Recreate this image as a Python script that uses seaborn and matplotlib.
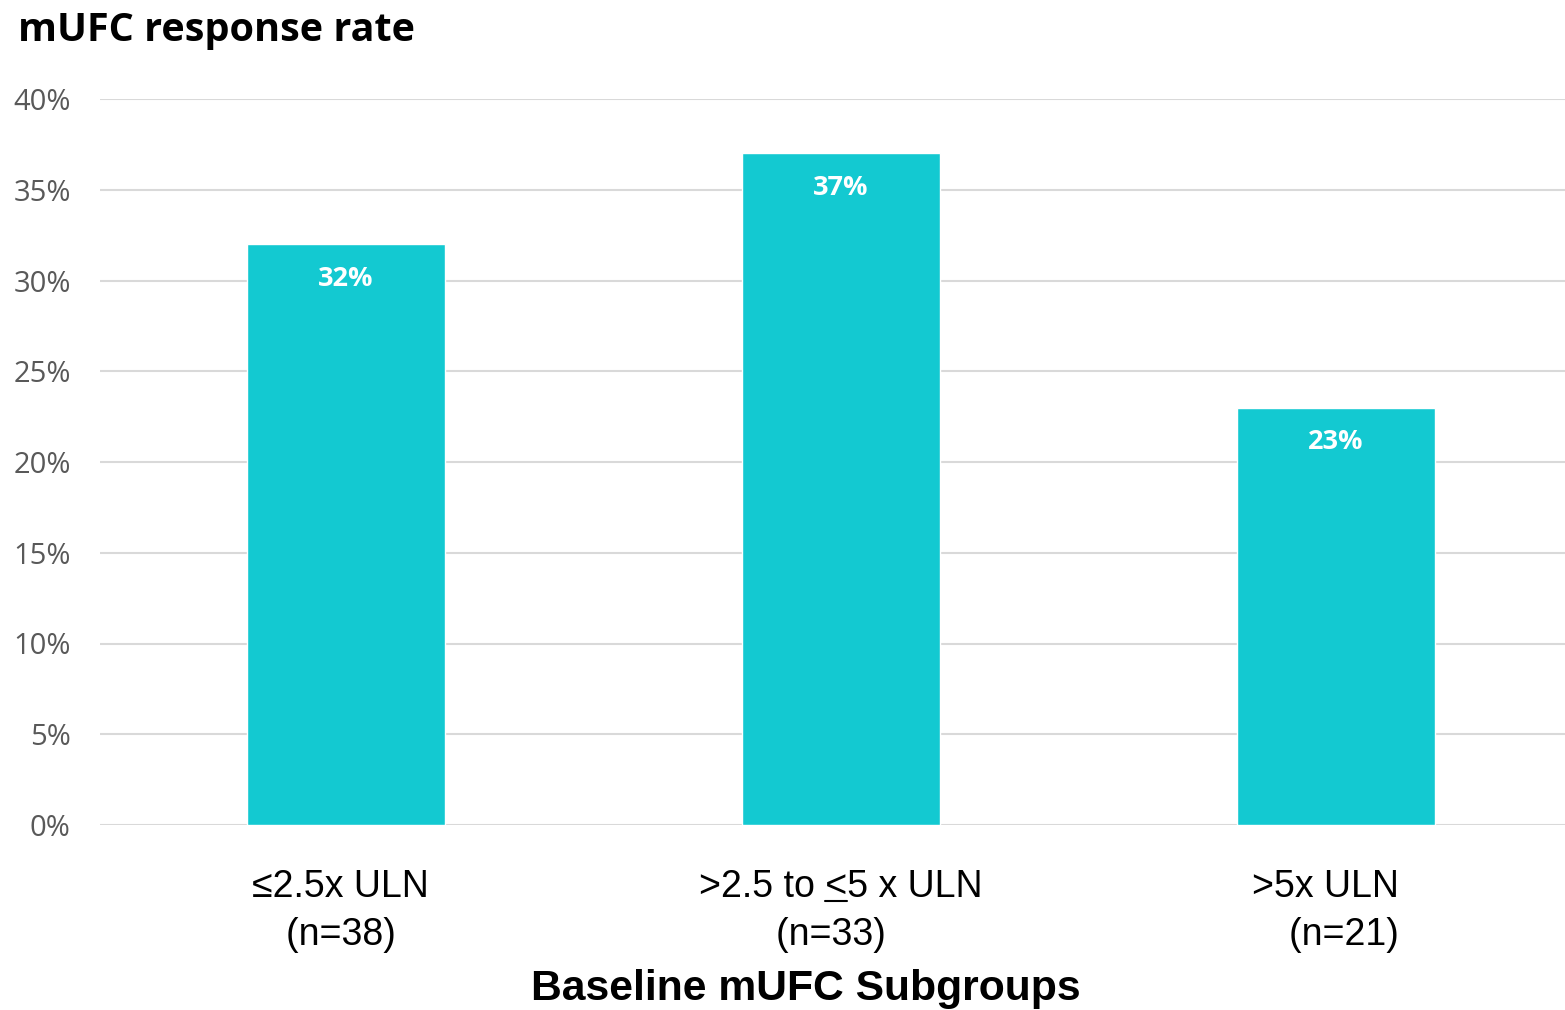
import matplotlib
matplotlib.use("Agg")
import matplotlib.pyplot as plt
from matplotlib.ticker import PercentFormatter
from matplotlib.lines import Line2D
import seaborn as sns
import pandas as pd

# Data
subgroups = ["≤2.5x ULN", ">2.5 to <5 x ULN", ">5x ULN"]
sample_sizes = ["(n=38)", "(n=33)", "(n=21)"]
response_rate = [0.32, 0.37, 0.23]
y_ticks = [0.0, 0.05, 0.10, 0.15, 0.20, 0.25, 0.30, 0.35, 0.40]

BAR_COLOR = "#13C9D1"
GRID_COLOR = "#D9D9D9"
TICK_GRAY = "#595959"

sns.set_theme(style="white")
plt.rcParams["font.family"] = ["Open Sans", "DejaVu Sans"]

fig = plt.figure(figsize=(15.65, 10.10), dpi=100)
ax = fig.add_axes([100 / 1565, 1 - 825 / 1010, 1465 / 1565, 726 / 1010])

df = pd.DataFrame({"group": subgroups, "rate": response_rate})
sns.barplot(data=df, x="group", y="rate", color=BAR_COLOR, saturation=1,
            width=0.4, ax=ax, zorder=3)

ax.set_ylim(0, 0.40)
ax.set_xlim(-0.497, 2.463)
ax.set_yticks(y_ticks)
ax.yaxis.set_major_formatter(PercentFormatter(1.0, decimals=0))
ax.grid(axis="y", color=GRID_COLOR, linewidth=1.5, zorder=0)
ax.grid(axis="x", visible=False)
ax.set_axisbelow(True)
for s in ax.spines.values():
    s.set_visible(False)

ax.tick_params(axis="y", length=0, pad=21, labelsize=21, labelcolor=TICK_GRAY)
ax.tick_params(axis="x", length=0, pad=32)

# Category labels: two lines each
tick_text = [
    f"{subgroups[0]} \n{sample_sizes[0]} ",
    f"{subgroups[1]}\n{sample_sizes[1]}  ",
    f"{subgroups[2]}  \n{sample_sizes[2]}  ",
]
ax.set_xticks(range(len(subgroups)))
ax.set_xticklabels(tick_text, fontsize=27, color="black",
                   family=["Liberation Sans", "DejaVu Sans"], linespacing=1.42)
ax.get_xticklabels()[2].set_multialignment("right")
ax.set_ylabel("")
ax.set_xlabel("Baseline mUFC Subgroups", fontsize=30.7, fontweight="bold",
              family=["Liberation Sans", "DejaVu Sans"], color="black", va="center")
ax.xaxis.set_label_coords((806 - 100) / 1465, (825 - 989) / 726)

# Value labels inside the top of each bar
for i, v in enumerate(response_rate):
    ax.annotate(f"{v * 100:.0f}%", xy=(i, v), xytext=(0, -25),
                textcoords="offset points", ha="center", va="center",
                color="white", fontsize=19.5, fontweight="bold", zorder=5)

fig.text(18 / 1565, 1 - 41 / 1010, "mUFC response rate", fontsize=28.5,
         fontweight="bold", color="black", ha="left", va="baseline")

# Underline the "<" in the middle category so it reads as "less than or equal"
fig.canvas.draw()
renderer = fig.canvas.get_renderer()
lab = ax.get_xticklabels()[1]
fp = lab.get_fontproperties()
bbox = lab.get_window_extent(renderer)
line1 = subgroups[1]
w_line, _, _ = renderer.get_text_width_height_descent(line1, fp, ismath=False)
w_pre, _, _ = renderer.get_text_width_height_descent(">2.5 to <", fp, ismath=False)
w_lt, _, _ = renderer.get_text_width_height_descent("<", fp, ismath=False)
_, lp_h, lp_d = renderer.get_text_width_height_descent("lp", fp, ismath=False)
xc = ax.transData.transform((1, 0))[0]
left = xc - w_line / 2
x0 = left + w_pre - w_lt
x1 = left + w_pre
ybase = bbox.y1 - (lp_h - lp_d) - 4
inv = fig.transFigure.inverted()
(fx0, fy), (fx1, _) = inv.transform([(x0, ybase), (x1, ybase)])
fig.add_artist(Line2D([fx0, fx1], [fy, fy], transform=fig.transFigure,
                      color="black", linewidth=1.5))

fig.savefig("out.png", dpi=100)
